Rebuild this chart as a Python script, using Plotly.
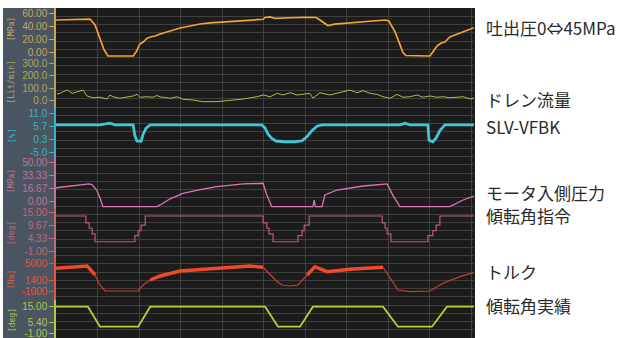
import plotly.graph_objects as go

# ---------------- data (time in screen divisions) ----------------
# 吐出圧 [MPa]
dp_t = [0.00, 0.60, 0.82, 0.94, 1.06, 1.16, 1.25, 1.86, 1.93, 2.02, 2.10, 2.19, 2.27, 2.39, 2.51,
        2.75, 2.99, 3.23, 3.47, 3.71, 4.00, 4.31, 4.67, 4.99, 5.04, 5.16, 5.28, 5.40, 5.64, 5.98,
        6.17, 6.27, 6.36, 6.48, 6.55, 6.72, 7.00, 7.33, 7.69, 7.93, 8.02, 8.17, 8.29, 8.36, 8.43,
        8.77, 9.01, 9.08, 9.18, 9.28, 9.37, 9.49, 9.73, 10.07]
dp_v = [50.5, 51.0, 52.0, 43.0, 22.6, 4.0, -5.3, -5.3, 0.9, 13.3, 16.4, 21.9, 24.2, 25.7, 28.8,
        33.5, 38.1, 41.2, 44.3, 45.9, 47.4, 49.0, 50.5, 51.6, 54.4, 55.2, 52.9, 53.6, 54.0, 54.7,
        55.2, 54.4, 50.5, 44.3, 42.0, 44.0, 45.5, 47.4, 49.0, 50.5, 49.0, 32.0, 12.0, 0.0, -4.5,
        -5.3, -5.3, 0.9, 10.2, 14.9, 16.4, 24.2, 30.4, 38.5]

# ドレン流量 [Lit/min]
dr_t = [0.02, 0.10, 0.19, 0.27, 0.39, 0.46, 0.53, 0.65, 0.75, 0.89, 1.06, 1.23, 1.30, 1.37, 1.54,
        1.71, 1.86, 1.95, 2.02, 2.19, 2.34, 2.43, 2.51, 2.63, 2.75, 2.92, 3.06, 3.30, 3.54, 3.88,
        4.19, 4.51, 4.84, 4.99, 5.16, 5.33, 5.47, 5.64, 5.81, 5.95, 6.12, 6.19, 6.36, 6.60, 6.77,
        6.92, 7.08, 7.25, 7.40, 7.57, 7.73, 7.88, 8.05, 8.22, 8.36, 8.53, 8.70, 8.84, 9.01, 9.18,
        9.33, 9.49, 9.66, 9.81, 9.98, 10.07]
dr_v = [55, 60, 75, 86, 60, 67, 73, 86, 39, 25, 29, 15, 47, 33, 21,
        33, 39, 52, 29, 33, 29, 43, 31, 27, 21, 33, 13, 7, -6, -6,
        2, 15, 33, 47, 33, 60, 47, 65, 47, 52, 60, 21, 65, 47, 60,
        73, 86, 65, 81, 60, 52, 33, 21, 52, 29, 33, 47, 29, 39, 29,
        33, 25, 29, 33, 15, 23]

# SLV-VFBK [%]
sv_t = [0.00, 1.06, 1.30, 1.42, 1.86, 1.90, 1.95, 2.05, 2.10, 2.17, 2.27, 4.96, 5.04, 5.11, 5.20,
        5.30, 5.52, 5.76, 5.93, 6.05, 6.17, 6.29, 6.41, 8.29, 8.41, 8.53, 8.96, 8.99, 9.08, 9.16,
        9.25, 9.37, 10.07]
sv_v = [6.3, 6.3, 7.0, 6.3, 6.3, 2.0, -0.3, -0.4, 2.5, 5.0, 6.3, 6.3, 5.0, 2.5, 0.8,
        -0.3, -0.6, -0.6, -0.2, 1.5, 4.0, 5.8, 6.3, 6.3, 7.0, 6.3, 6.3, 0.0, -0.6, 1.0,
        4.0, 6.3, 6.3]

# モータ入側圧力 [MPa]
mp_t = [0.00, 0.80, 0.87, 0.98, 1.06, 1.13, 2.43, 2.51, 2.75, 3.06, 3.47, 3.88, 4.51, 4.99, 5.07,
        5.20, 6.19, 6.22, 6.25, 6.41, 6.48, 6.77, 7.40, 7.98, 8.12, 8.29, 9.49, 9.81, 10.07]
mp_v = [18.0, 23.0, 22.0, 15.1, 5.0, -6.1, -6.1, -3.9, 3.9, 10.9, 15.5, 19.3, 22.8, 23.7, 10.0,
        -6.1, -6.1, 2.4, -6.1, -6.1, 8.8, 15.1, 20.2, 22.8, 8.0, -6.1, -6.1, 2.4, 7.5]

# 傾転角指令 [deg]
cmd_t = [0.00, 0.72, 0.80, 0.87, 0.94, 1.90, 1.98, 2.05, 2.15, 4.99, 5.08, 5.13, 5.23, 5.83, 5.93,
         5.98, 6.10, 7.86, 7.93, 7.98, 8.07, 8.96, 9.08, 9.16, 9.25, 10.07]
cmd_v = [13.6, 10.8, 8.6, 6.3, 3.1, 5.6, 7.6, 9.9, 13.6, 10.8, 8.6, 6.3, 3.1, 5.6, 7.6,
         9.9, 13.6, 10.8, 8.6, 6.3, 3.1, 5.6, 7.6, 9.9, 13.6, 13.6]

# トルク [Nm]
tq_t = [0.00, 0.75, 0.94, 1.06, 1.18, 1.98, 2.10, 2.27, 2.51, 2.99, 3.88, 4.67, 4.99, 5.33, 5.45,
        5.64, 5.83, 6.05, 6.24, 6.53, 7.08, 7.88, 8.24, 8.53, 9.01, 9.33, 9.73, 10.07]
tq_v = [4008, 4496, 2587, 467, -806, -806, 467, 1527, 2375, 3436, 4008, 4496, 4220, 1166, 467,
        255, 467, 2587, 4348, 3287, 3796, 4220, -594, -954, -806, 827, 2227, 3075]

# 傾転角実績 [deg]
act_t = [0.00, 0.77, 1.06, 1.98, 2.27, 5.04, 5.35, 5.88, 6.19, 7.88, 8.24, 9.06, 9.42, 10.07]
act_v = [14.7, 14.7, 2.9, 2.9, 14.7, 14.7, 2.9, 2.9, 14.7, 14.7, 2.9, 2.9, 14.7, 14.7]

# tick labels per channel
tk_dp = [60.0, 40.0, 20.0, 0.0];        tl_dp = ["60.00", "40.00", "20.00", "0.00"]
tk_dr = [300, 200, 100, 0];             tl_dr = ["300.0", "200.0", "100.0", "0.0"]
tk_sv = [11.0, 5.7, 0.3, -5.0];         tl_sv = ["11.0", "5.7", "0.3", "-5.0"]
tk_mp = [50.0, 33.33, 16.67, 0.0];      tl_mp = ["50.00", "33.33", "16.67", "0.00"]
tk_cmd = [15.0, 9.67, 4.33, -1.0];      tl_cmd = ["15.00", "9.67", "4.33", "-1.00"]
tk_tq = [5000, 1400, -1000];            tl_tq = ["5000", "1400", "-1000"]
tk_act = [15.0, 5.4, -1.0];             tl_act = ["15.00", "5.40", "-1.00"]

units = ["[MPa]", "[Lit/min]", "[%]", "[MPa]", "[deg]", "[Nm]", "[deg]"]
names = ["吐出圧0⇔45MPa", "ドレン流量", "SLV-VFBK", "モータ入側圧力", "傾転角指令", "トルク", "傾転角実績"]

# ---------------- styling / layout config ----------------
channels = [
    dict(t=dp_t, v=dp_v, tk=tk_dp, tl=tl_dp, line="#f0a432", lab="#c9a65a", w=1.7,
         dom=[0.8485, 1.0], rng=[-8.4, 69.1], uy=0.9364, ny=0.9394),
    dict(t=dr_t, v=dr_v, tk=tk_dr, tl=tl_dr, line="#bcb64a", lab="#aaa660", w=1.0,
         dom=[0.697, 0.8485], rng=[-56.3, 340.5], uy=0.7742, ny=0.7242),
    dict(t=sv_t, v=sv_v, tk=tk_sv, tl=tl_sv, line="#3ec8d4", lab="#36b4c4", w=2.8,
         dom=[0.5485, 0.697], rng=[-6.86, 13.26], uy=0.6121, ny=0.6424),
    dict(t=mp_t, v=mp_v, tk=tk_mp, tl=tl_mp, line="#e074b4", lab="#c47494", w=1.3,
         dom=[0.394, 0.5485], rng=[-7.76, 57.1], uy=0.4758, ny=0.4424),
    dict(t=cmd_t, v=cmd_v, tk=tk_cmd, tl=tl_cmd, line="#c05a6a", lab="#c06a74", w=1.2,
         dom=[0.2455, 0.394], rng=[-3.10, 16.86], uy=0.3182, ny=0.3727, shape="hv"),
    dict(t=tq_t, v=tq_v, tk=tk_tq, tl=tl_tq, line="#c8402c", lab="#e0583a", w=1.2,
         dom=[0.1152, 0.2455], rng=[-2715, 6405], uy=0.1758, ny=0.2030),
    dict(t=act_t, v=act_v, tk=tk_act, tl=tl_act, line="#b4d234", lab="#b0c84a", w=1.8,
         dom=[0.0, 0.1152], rng=[-3.78, 18.65], uy=0.0545, ny=0.0970),
]

W, H = 636, 338
L, R, T, B = 56, 162, 8, 0
pw = W - L - R

fig = go.Figure()
# grid-carrying empty subplot
fig.add_trace(go.Scatter(x=[], y=[], xaxis="x", yaxis="y", showlegend=False, hoverinfo="skip"))

layout = dict(
    width=W, height=H, margin=dict(l=L, r=R, t=T, b=B),
    paper_bgcolor="white", plot_bgcolor="rgba(0,0,0,0)", showlegend=False,
    xaxis=dict(domain=[0, 1], range=[0, 418 / 41.5], dtick=1, tick0=0, showgrid=True,
               gridcolor="#3f3f3f", gridwidth=1, showticklabels=False, ticks="",
               zeroline=False, showline=False, anchor="y"),
    yaxis=dict(domain=[0, 1], range=[0, 40], dtick=1, tick0=0, showgrid=True,
               gridcolor="#3f3f3f", gridwidth=1, showticklabels=False, ticks="",
               zeroline=False, showline=False, anchor="x"),
)

tickfont_family = "Liberation Sans, Arial, sans-serif"
annotations = []
for i, ch in enumerate(channels):
    ax = "y%d" % (i + 2)
    key = "yaxis%d" % (i + 2)
    layout[key] = dict(domain=ch["dom"], range=ch["rng"], anchor="x", showgrid=False,
                       zeroline=False, showline=True, linecolor=ch["lab"], linewidth=1.5,
                       ticks="outside", ticklen=5, tickwidth=1, tickcolor=ch["lab"],
                       tickmode="array", tickvals=ch["tk"], ticktext=ch["tl"],
                       ticklabeloverflow="allow",
                       tickfont=dict(family=tickfont_family, size=10, color=ch["lab"]))
    if i == 5:
        # torque: thin trace overall, thick noisy band where torque is high
        fig.add_trace(go.Scatter(x=ch["t"], y=ch["v"], mode="lines", xaxis="x", yaxis=ax,
                                 line=dict(color=ch["line"], width=1.2), hoverinfo="skip"))
        hi = [v if v > 1300 else None for v in ch["v"]]
        fig.add_trace(go.Scatter(x=ch["t"][:22], y=hi[:22], mode="lines", xaxis="x", yaxis=ax,
                                 line=dict(color="#f24a26", width=3.4), connectgaps=False,
                                 hoverinfo="skip"))
    else:
        fig.add_trace(go.Scatter(x=ch["t"], y=ch["v"], mode="lines", xaxis="x", yaxis=ax,
                                 line=dict(color=ch["line"], width=ch["w"],
                                           shape=ch.get("shape", "linear")),
                                 hoverinfo="skip"))
    annotations.append(dict(text=units[i], xref="paper", yref="paper", x=(12 - L) / pw,
                            y=ch["uy"], textangle=-90, showarrow=False,
                            xanchor="center", yanchor="middle",
                            font=dict(family="DejaVu Sans Mono, monospace", size=8,
                                      color=ch["lab"])))
    annotations.append(dict(text=names[i], xref="paper", yref="paper", x=(484 - L) / pw,
                            y=ch["ny"], showarrow=False, xanchor="left", yanchor="middle",
                            font=dict(family="Noto Sans CJK JP, Noto Sans, sans-serif",
                                      size=17, color="#2a2a2a")))

layout["annotations"] = annotations
layout["shapes"] = [
    dict(type="rect", xref="paper", yref="paper", x0=(3 - L) / pw, x1=0, y0=0, y1=1,
         fillcolor="#4b5461", line=dict(width=0), layer="below"),
    dict(type="rect", xref="paper", yref="paper", x0=0, x1=(475 - L) / pw, y0=0, y1=1,
         fillcolor="#1c1c1c", line=dict(width=0), layer="below"),
]
fig.update_layout(**layout)
fig.write_html("out.html", config={"displayModeBar": False},
               post_script="document.body.style.margin='0px';")
